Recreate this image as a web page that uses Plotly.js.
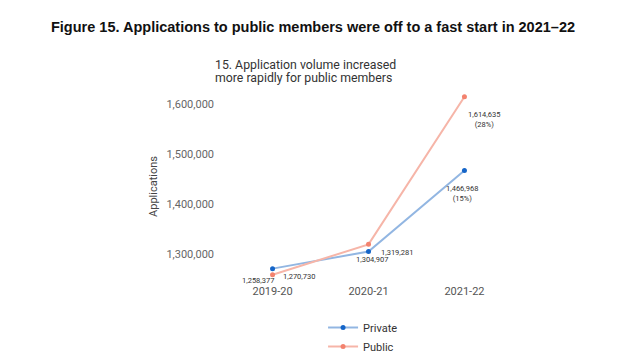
<!DOCTYPE html>
<html>
<head>
<meta charset="utf-8">
<script src="https://cdn.plot.ly/plotly-3.0.1.min.js"></script>
<style>html,body{margin:0;padding:0;background:#fff;}#chart{width:626px;height:363px;}</style>
</head>
<body>
<div id="chart"></div>
<script>
const years = ["2019-20", "2020-21", "2021-22"];
const privateApps = [1270730, 1304907, 1466968];
const publicApps = [1258377, 1319281, 1614635];
const yTicks = [1300000, 1400000, 1500000, 1600000];
const seriesNames = ["Private", "Public"];
const subtitleLines = ["15. Application volume increased", "more rapidly for public members"];

const fmt = v => v.toLocaleString("en-US");
const pct = arr => Math.round((arr[arr.length - 1] / arr[0] - 1) * 100);

const blueLine = "#92b6e2", blueMark = "#1565c8";
const redLine = "#f6b5a8", redMark = "#f3826e";

const traces = [
  {x: years, y: privateApps, name: seriesNames[0], type: "scatter", mode: "lines+markers",
   line: {color: blueLine, width: 2}, marker: {color: blueMark, size: 5}},
  {x: years, y: publicApps, name: seriesNames[1], type: "scatter", mode: "lines+markers",
   line: {color: redLine, width: 2}, marker: {color: redMark, size: 5}}
];

// label placement (styling only)
const privShift = [[26, -8], [3, -8], [-2, -23]];
const pubShift = [[-15, -6], [28, -8], [20, -23]];

const ann = [];
function addLabels(vals, shifts) {
  vals.forEach((v, i) => {
    let t = fmt(v);
    if (i === vals.length - 1) t += "<br>(" + pct(vals) + "%)";
    ann.push({x: years[i], y: v, xref: "x", yref: "y", text: t, showarrow: false,
      xshift: shifts[i][0], yshift: shifts[i][1],
      font: {family: "Roboto, sans-serif", size: 7.5, color: "#333"}});
  });
}
addLabels(privateApps, privShift);
addLabels(publicApps, pubShift);

// plot area: x 215..522, y 90..283
const subY = [65, 77.7];
subtitleLines.forEach((s, i) => {
  ann.push({xref: "paper", yref: "paper", x: (213 - 215) / 307, y: (283 - subY[i]) / 193,
    xanchor: "left", yanchor: "middle", align: "left", showarrow: false, text: s,
    font: {family: "Roboto, sans-serif", size: 12.3, color: "#333"}});
});

const layout = {
  width: 626, height: 363,
  margin: {l: 215, r: 104, t: 90, b: 80},
  paper_bgcolor: "#fff", plot_bgcolor: "#fff",
  title: {text: "<b>Figure 15. Applications to public members were off to a fast start in 2021\u201322</b>",
    x: 0.5, xanchor: "center", xref: "container", y: 1 - 27 / 363, yanchor: "middle", yref: "container",
    font: {family: "Liberation Sans, Arial, sans-serif", size: 14.5, color: "#111"}},
  xaxis: {type: "category", range: [-0.6, 2.6], showgrid: false, zeroline: false, showline: false,
    automargin: false, ticks: "", ticklen: 6, tickfont: {family: "Roboto, sans-serif", size: 11, color: "#555"}},
  yaxis: {range: [1242000, 1628000], tickvals: yTicks, ticktext: yTicks.map(fmt),
    showgrid: false, zeroline: false, showline: false, ticks: "", automargin: false,
    tickfont: {family: "Roboto, sans-serif", size: 11, color: "#666"},
    title: {text: "Applications", standoff: 6, font: {family: "Roboto, sans-serif", size: 11, color: "#444"}}},
  showlegend: true,
  legend: {orientation: "v", x: 0.352, xanchor: "left", xref: "paper",
    y: 1 - 313 / 363, yanchor: "top", yref: "container",
    font: {family: "Roboto, sans-serif", size: 11, color: "#333"}},
  annotations: ann
};

Plotly.newPlot("chart", traces, layout, {displayModeBar: false, staticPlot: true});
</script>
</body>
</html>
